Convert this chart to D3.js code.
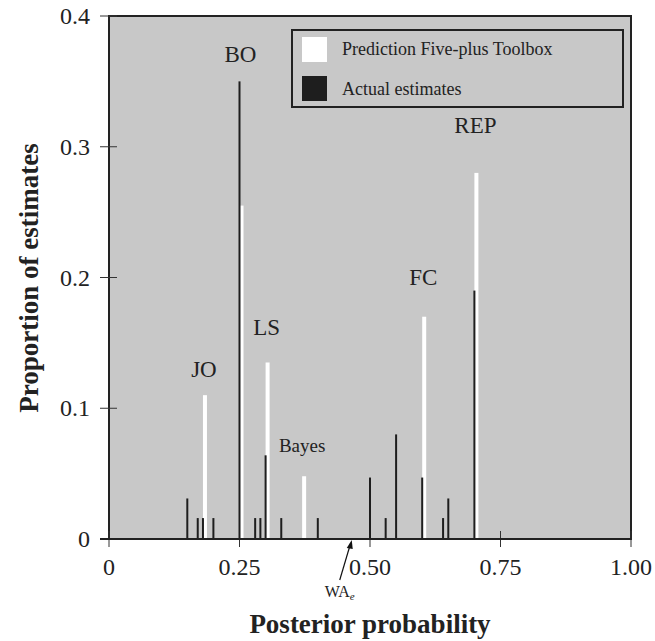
<!DOCTYPE html>
<html><head><meta charset="utf-8">
<script src="https://cdn.jsdelivr.net/npm/d3@7"></script>
<style>body{margin:0;background:#fff}text{font-family:"Liberation Serif","DejaVu Serif",serif;fill:#222}</style>
</head><body>
<script>
var predX = [0.18, 0.25, 0.30, 0.37, 0.60, 0.70];
var predY = [0.11, 0.255, 0.135, 0.048, 0.17, 0.28];
var actX = [0.15, 0.17, 0.18, 0.20, 0.25, 0.28, 0.29, 0.30, 0.33, 0.40, 0.50, 0.53, 0.55, 0.60, 0.64, 0.65, 0.70];
var actY = [0.031, 0.016, 0.016, 0.016, 0.35, 0.016, 0.016, 0.064, 0.016, 0.016, 0.047, 0.016, 0.08, 0.047, 0.016, 0.031, 0.19];
var labels = [["JO",0.18,0.11,-18],["BO",0.25,0.35,-19],["LS",0.30,0.135,-27],["Bayes",0.37,0.048,-24],["FC",0.60,0.17,-32],["REP",0.70,0.28,-40]];
var xTicks = [0, 0.25, 0.5, 0.75, 1];
var xTickText = ["0", "0.25", "0.50", "0.75", "1.00"];
var yTicks = [0, 0.1, 0.2, 0.3, 0.4];

var w = 655, h = 641;
var svg = d3.select("body").append("svg").attr("width", w).attr("height", h);
var x = d3.scaleLinear().domain([0, 1]).range([109, 631]);
var y = d3.scaleLinear().domain([0, 0.4]).range([539, 16]);

svg.append("rect").attr("x", 109).attr("y", 16).attr("width", 522).attr("height", 523)
  .attr("fill", "#c8c8c8").attr("stroke", "#222").attr("stroke-width", 2);

// ticks crossing frame
svg.selectAll(".xt").data(xTicks).enter().append("line")
  .attr("x1", d => x(d)).attr("x2", d => x(d)).attr("y1", 531).attr("y2", 547)
  .attr("stroke", "#333").attr("stroke-width", 1);
svg.selectAll(".yt").data(yTicks).enter().append("line")
  .attr("x1", 100).attr("x2", 117).attr("y1", d => y(d)).attr("y2", d => y(d))
  .attr("stroke", "#333").attr("stroke-width", 1);
svg.append("line").attr("x1", 100).attr("x2", 109).attr("y1", 539).attr("y2", 539).attr("stroke", "#222").attr("stroke-width", 2);

svg.selectAll(".xl").data(xTicks).enter().append("text")
  .attr("x", d => x(d)).attr("y", 575).attr("text-anchor", "middle")
  .style("font-size", "24px").text((d, i) => xTickText[i]);
svg.selectAll(".yl").data(yTicks).enter().append("text")
  .attr("x", 90).attr("y", d => y(d) + 8).attr("text-anchor", "end")
  .style("font-size", "24px").text(d => d === 0 ? "0" : d.toFixed(1));

// bars
svg.selectAll(".pb").data(predX).enter().append("rect")
  .attr("x", d => x(d)).attr("width", 4)
  .attr("y", (d, i) => y(predY[i])).attr("height", (d, i) => y(0) - y(predY[i]))
  .attr("fill", "#fff");
svg.selectAll(".ab").data(actX).enter().append("rect")
  .attr("x", d => x(d) - 1).attr("width", 2)
  .attr("y", (d, i) => y(actY[i])).attr("height", (d, i) => y(0) - y(actY[i]))
  .attr("fill", "#1e1e1e");
svg.append("line").attr("x1", 109).attr("x2", 631).attr("y1", 539).attr("y2", 539).attr("stroke", "#222").attr("stroke-width", 2);

svg.selectAll(".lab").data(labels).enter().append("text")
  .attr("x", d => x(d[1]) + (d[0] === "Bayes" ? 0 : 1)).attr("y", d => y(d[2]) + d[3])
  .attr("text-anchor", "middle")
  .style("font-size", d => d[0] === "Bayes" ? "19px" : "23px").text(d => d[0]);

// WA_e annotation
var wa = x(0.465);
svg.append("line").attr("x1", wa - 12).attr("y1", 580).attr("x2", wa - 1).attr("y2", 543).attr("stroke", "#111").attr("stroke-width", 1.2);
svg.append("path").attr("d", `M${wa},540 l-5,8 l6,1 z`).attr("fill", "#111");
var t = svg.append("text").attr("x", wa - 12).attr("y", 597).attr("text-anchor", "middle").style("font-size", "16px");
t.append("tspan").text("WA");
t.append("tspan").attr("dy", 3).style("font-size", "11px").style("font-style", "italic").text("e");

// legend
svg.append("rect").attr("x", 292).attr("y", 30).attr("width", 331).attr("height", 77)
  .attr("fill", "#c8c8c8").attr("stroke", "#222").attr("stroke-width", 2);
svg.append("rect").attr("x", 302).attr("y", 37).attr("width", 25).attr("height", 25).attr("fill", "#fff");
svg.append("rect").attr("x", 302).attr("y", 76).attr("width", 25).attr("height", 25).attr("fill", "#1e1e1e");
svg.append("text").attr("x", 342).attr("y", 55).style("font-size", "18px").text("Prediction Five-plus Toolbox");
svg.append("text").attr("x", 342).attr("y", 95).style("font-size", "18px").text("Actual estimates");

svg.append("text").attr("x", 370).attr("y", 633).attr("text-anchor", "middle")
  .style("font-size", "27px").style("font-weight", "bold").text("Posterior probability");
svg.append("text").attr("transform", "translate(38,278) rotate(-90)").attr("text-anchor", "middle")
  .style("font-size", "27px").style("font-weight", "bold").text("Proportion of estimates");
</script>
</body></html>
